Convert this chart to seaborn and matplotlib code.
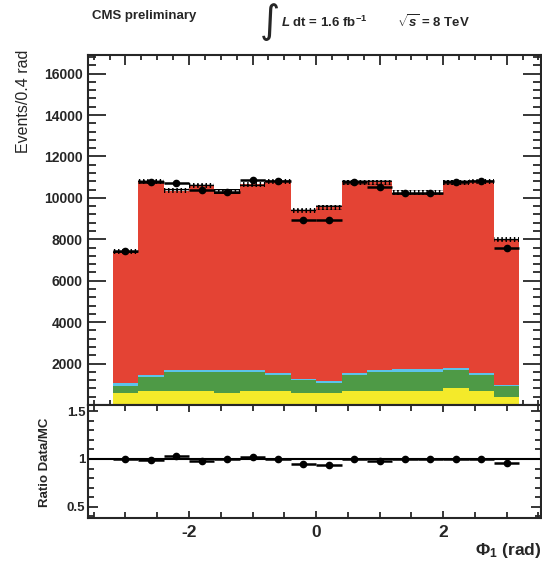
import numpy as np
import pandas as pd
import matplotlib
matplotlib.use("Agg")
import matplotlib.pyplot as plt
from matplotlib.ticker import MultipleLocator, FixedLocator, FuncFormatter
import seaborn as sns

# ---------------- data ----------------
bin_edges = [-3.2, -2.8, -2.4, -2.0, -1.6, -1.2, -0.8, -0.4, 0.0,
             0.4, 0.8, 1.2, 1.6, 2.0, 2.4, 2.8, 3.2]
bin_centers = [-3.0, -2.6, -2.2, -1.8, -1.4, -1.0, -0.6, -0.2,
               0.2, 0.6, 1.0, 1.4, 1.8, 2.2, 2.6, 3.0]
mc_yellow = [565, 690, 690, 690, 565, 690, 690, 565, 565, 690, 690, 690, 690, 805, 690, 400]
mc_green = [335, 646, 888, 888, 1013, 888, 760, 643, 482, 760, 888, 920, 920, 885, 760, 535]
mc_blue = [180, 114, 112, 112, 112, 112, 110, 30, 128, 110, 112, 145, 145, 110, 110, 30]
mc_red = [6320, 9350, 8660, 8910, 8610, 8960, 9240, 8162, 8375, 9190, 9060, 8495, 8495, 8950, 9240, 7015]
data_events = [7450, 10750, 10700, 10400, 10300, 10850, 10800, 8950,
               8950, 10750, 10550, 10250, 10250, 10750, 10800, 7600]
ratio_vals = [1.0, 0.99, 1.03, 0.98, 1.0, 1.02, 1.0, 0.95,
              0.94, 1.0, 0.98, 1.0, 1.0, 1.0, 1.0, 0.955]
main_yticks = [2000, 4000, 6000, 8000, 10000, 12000, 14000, 16000]
ratio_yticks = [0.5, 1.0, 1.5]
x_ticklabels = ["-2", "0", "2"]

components = ["red", "blue", "green", "yellow"]
palette = {"red": "#E44334", "blue": "#5CC3EA", "green": "#4E9A46", "yellow": "#F4EA2A"}

rows = []
for comp, vals in zip(components, [mc_red, mc_blue, mc_green, mc_yellow]):
    for c, v in zip(bin_centers, vals):
        rows.append({"phi": c, "events": v, "comp": comp})
df = pd.DataFrame(rows)

mc_total = np.array(mc_red) + np.array(mc_blue) + np.array(mc_green) + np.array(mc_yellow)

# ---------------- figure ----------------
sns.set_style("ticks")
plt.rcParams["font.family"] = ["Liberation Sans", "DejaVu Sans"]
plt.rcParams["mathtext.fontset"] = "custom"
plt.rcParams["mathtext.rm"] = "Liberation Sans:bold"
plt.rcParams["mathtext.it"] = "Liberation Sans:italic:bold"
plt.rcParams["mathtext.bf"] = "Liberation Sans:bold"

W, H = 542, 564
fig = plt.figure(figsize=(W / 100, H / 100), dpi=100)
L, R = 88 / W, 541 / W
ax = fig.add_axes([L, 1 - 405 / H, R - L, (405 - 55) / H])
axr = fig.add_axes([L, 1 - 518 / H, R - L, (518 - 405) / H])

sns.histplot(data=df, x="phi", weights="events", hue="comp", hue_order=components,
             multiple="stack", bins=bin_edges, element="step", fill=True,
             palette=palette, alpha=1, linewidth=0, legend=False, ax=ax)

# MC uncertainty band
ax.bar(bin_centers, [240] * len(bin_centers), width=0.4,
       bottom=mc_total - 120, facecolor="none", edgecolor="black",
       hatch="++++", linewidth=0)

# data points
ax.errorbar(bin_centers, data_events, xerr=0.2, yerr=np.sqrt(data_events),
            fmt="o", color="black", markersize=4.5, elinewidth=1.8, capsize=0)

ax.set_xlim(-3.59, 3.54)
ax.set_ylim(0, 16900)
ax.set_xlabel("")
ax.set_ylabel("")
ax.yaxis.set_major_locator(FixedLocator(main_yticks))
ax.yaxis.set_minor_locator(MultipleLocator(400))
ax.xaxis.set_major_locator(MultipleLocator(1))
ax.xaxis.set_minor_locator(MultipleLocator(0.25))
ax.tick_params(axis="both", which="both", direction="in", top=True, right=True,
               labelbottom=False, width=1.3)
ax.tick_params(axis="y", which="major", length=13, labelsize=10, pad=4)
ax.tick_params(axis="y", which="minor", length=6)
ax.tick_params(axis="x", which="major", length=7)
ax.tick_params(axis="x", which="minor", length=3.5)
ax.tick_params(axis="y", labelright=False)
for s in ax.spines.values():
    s.set_linewidth(1.5)
    s.set_visible(True)

# ratio panel
axr.axhline(1.0, color="black", linewidth=1.5)
axr.errorbar(bin_centers, ratio_vals, xerr=0.2, yerr=0.012, fmt="o",
             color="black", markersize=4.5, elinewidth=1.8, capsize=0)
axr.set_xlim(-3.59, 3.54)
axr.set_ylim(0.383, 1.564)
axr.yaxis.set_major_locator(FixedLocator(ratio_yticks))
axr.yaxis.set_minor_locator(MultipleLocator(0.1))
axr.yaxis.set_major_formatter(FuncFormatter(lambda v, p: "%g" % v))
axr.xaxis.set_major_locator(FixedLocator([-2, 0, 2]))
axr.xaxis.set_major_formatter(FuncFormatter(lambda v, p: x_ticklabels[int(round(v / 2)) + 1]))
axr.xaxis.set_minor_locator(MultipleLocator(0.5))
axr.tick_params(axis="both", which="both", direction="in", top=True, right=True, width=1.3)
axr.tick_params(axis="y", which="major", length=7, labelsize=9.5, pad=2)
axr.tick_params(axis="y", which="minor", length=4)
axr.tick_params(axis="x", which="major", length=5, labelsize=12.5, pad=5)
axr.tick_params(axis="x", which="minor", length=4)
axr.tick_params(axis="y", labelright=False)
for s in axr.spines.values():
    s.set_linewidth(1.5)
    s.set_visible(True)
for lab in ax.get_yticklabels() + axr.get_yticklabels() + axr.get_xticklabels():
    lab.set_fontweight("bold")

# texts
fig.text(24 / W, 1 - 50 / H, "Events/0.4 rad", rotation=90, ha="center", va="top", fontsize=11.5)
fig.text(45 / W, 1 - 462 / H, "Ratio Data/MC", rotation=90, ha="center", va="center",
         fontsize=9.5, fontweight="bold")
fig.text(541 / W, 1 - 550 / H, r"$\mathbf{\Phi_1}$ (rad)", ha="right", va="center", fontsize=12.5,
         fontweight="bold")
fig.text(92 / W, 1 - 16 / H, "CMS preliminary", ha="left", va="center", fontsize=9.5, fontweight="bold")
fig.text(260 / W, 1 - 22 / H, "\u222b", ha="left", va="center", fontsize=28,
         family=["DejaVu Sans"], fontweight="normal")
fig.text(281 / W, 1 - 22 / H, r"$L$ dt = 1.6 fb$^{-1}$", ha="left", va="center", fontsize=9.5, fontweight="bold")
fig.text(397 / W, 1 - 22 / H, r"$\sqrt{s}$ = 8 TeV", ha="left", va="center", fontsize=9.5, fontweight="bold")

fig.savefig("out.png", dpi=100)
